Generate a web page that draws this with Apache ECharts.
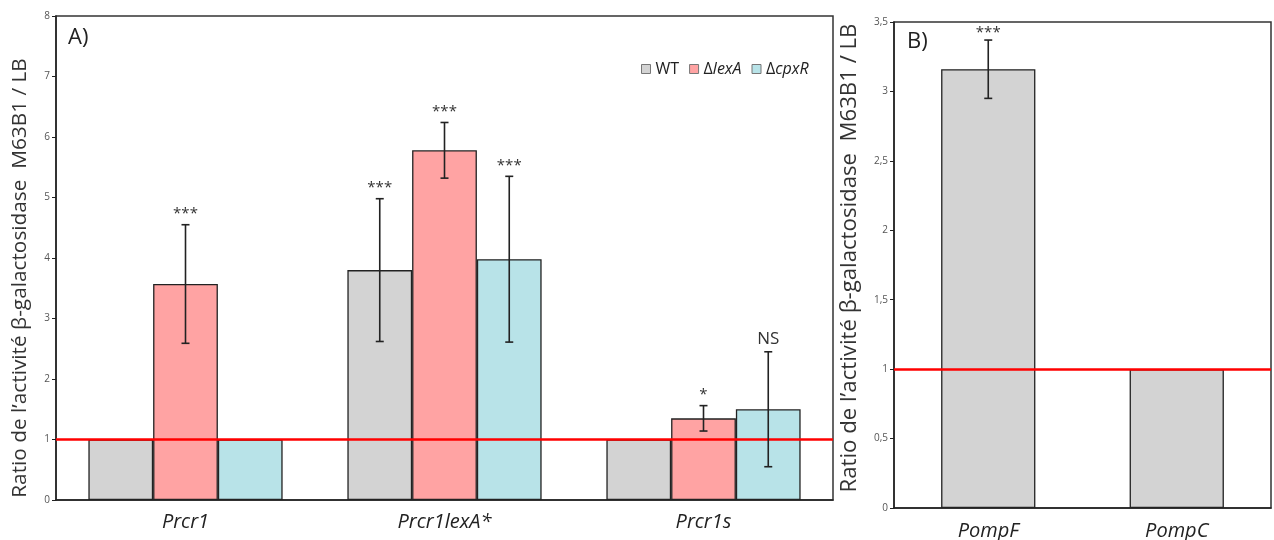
<!DOCTYPE html>
<html>
<head>
<meta charset="utf-8">
<script src="https://cdn.jsdelivr.net/npm/echarts@6/dist/echarts.min.js"></script>
<style>html,body{margin:0;padding:0;background:#fff}#c{width:1274px;height:540px}</style>
</head>
<body>
<div id="c"></div>
<script>
// ---- Data (panel A) ----
const categoriesA = ['Prcr1', 'Prcr1lexA*', 'Prcr1s'];
const wtA = [1.0, 3.80, 1.0];
const lexAA = [3.57, 5.78, 1.35];
const cpxRA = [1.0, 3.98, 1.50];
const wtErrA = [0, 1.18, 0];
const lexAErrA = [0.98, 0.46, 0.21];
const cpxRErrA = [0, 1.37, 0.95];
const wtSigA = ['', '***', ''];
const lexASigA = ['***', '***', '*'];
const cpxRSigA = ['', '***', 'NS'];
const ticksA = [0, 1, 2, 3, 4, 5, 6, 7, 8];

// ---- Data (panel B) ----
const categoriesB = ['PompF', 'PompC'];
const valuesB = [3.16, 1.0];
const errB = [0.21, 0];
const sigB = ['***', ''];
const ticksB = ['0', '0,5', '1', '1,5', '2', '2,5', '3', '3,5'];

const refLine = 1;
const seriesNames = ['WT', 'ΔlexA', 'ΔcpxR'];

const FONT = '"Open Sans", sans-serif';
const colors = ['#d3d3d3', '#ffa3a3', '#b8e3e8'];

function errSeries(vals, errs, sigs, slot, nSlots, barFrac, axisIdx, textOff) {
  return {
    type: 'custom',
    xAxisIndex: axisIdx, yAxisIndex: axisIdx,
    z: 10, silent: true, clip: false,
    data: vals.map((v, i) => [i, v, errs[i]]),
    renderItem: function (params, api) {
      const i = api.value(0), v = api.value(1), e = api.value(2);
      const band = api.size([1, 0])[0];
      const bw = band * barFrac / nSlots;
      const c = api.coord([i, v]);
      const x = c[0] + (slot - (nSlots - 1) / 2) * bw;
      const yT = api.coord([i, v + e])[1];
      const yB = api.coord([i, v - e])[1];
      const st = { stroke: '#222', lineWidth: 1.6 };
      const children = [];
      if (e > 0) {
        children.push({ type: 'line', shape: { x1: x, y1: yT, x2: x, y2: yB }, style: st });
        children.push({ type: 'line', shape: { x1: x - 4, y1: yT, x2: x + 4, y2: yT }, style: st });
        children.push({ type: 'line', shape: { x1: x - 4, y1: yB, x2: x + 4, y2: yB }, style: st });
      }
      const s = sigs[i];
      if (s) {
        const isNS = s === 'NS';
        children.push({
          type: 'text',
          x: x, y: yT - (isNS ? 13 : textOff),
          style: {
            text: s, fill: '#333',
            font: (isNS ? '17px ' : '15px ') + FONT,
            align: 'center', verticalAlign: 'middle',
            textAlign: 'center', textVerticalAlign: 'middle'
          }
        });
      }
      return { type: 'group', children: children };
    }
  };
}

const redMark = {
  silent: true, symbol: 'none', label: { show: false },
  lineStyle: { color: '#ff0000', width: 2.5, type: 'solid' },
  data: [{ yAxis: refLine }]
};

const barStyle = (c) => ({ color: c, borderColor: '#222', borderWidth: 1.3 });

const yName = 'Ratio de l’activité β-galactosidase  M63B1 / LB';

const option = {
  animation: false,
  title: [
    { text: 'A)', left: 63, top: 22, textStyle: { fontSize: 22, fontWeight: 'normal', color: '#222', fontFamily: FONT } },
    { text: 'B)', left: 902, top: 26, textStyle: { fontSize: 22, fontWeight: 'normal', color: '#222', fontFamily: FONT } }
  ],
  legend: {
    data: seriesNames, left: 636, top: 56,
    icon: 'rect', itemWidth: 9, itemHeight: 9, itemGap: 10,
    itemStyle: { borderColor: '#777', borderWidth: 1 },
    textStyle: { fontFamily: FONT, fontSize: 16, color: '#222',
      rich: { n: { fontSize: 16, fontFamily: FONT, color: '#222' }, i: { fontSize: 16, fontFamily: FONT, fontStyle: 'italic', color: '#222' } } },
    formatter: function (name) {
      if (name.charAt(0) === 'Δ') return '{n|Δ}{i|' + name.slice(1) + '}';
      return '{n|' + name + '}';
    }
  },
  grid: [
    { left: 56, top: 16, width: 777, height: 484, show: true, borderColor: '#333', borderWidth: 1.5, backgroundColor: 'transparent', containLabel: false, outerBoundsMode: 'none' },
    { left: 894, top: 22, width: 377, height: 486, show: true, borderColor: '#333', borderWidth: 1.5, backgroundColor: 'transparent', containLabel: false, outerBoundsMode: 'none' }
  ],
  xAxis: [
    { type: 'category', gridIndex: 0, data: categoriesA,
      axisLine: { lineStyle: { color: '#222', width: 1.5 } },
      axisTick: { length: 27, lineStyle: { color: '#222', width: 1.5 } },
      axisLabel: { margin: 12, fontSize: 20, fontStyle: 'italic', color: '#222', fontFamily: FONT } },
    { type: 'category', gridIndex: 1, data: categoriesB,
      axisLine: { lineStyle: { color: '#222', width: 1.5 } },
      axisTick: { length: 15, lineStyle: { color: '#222', width: 1.5 } },
      axisLabel: { margin: 13, fontSize: 20, fontStyle: 'italic', color: '#222', fontFamily: FONT } }
  ],
  yAxis: [
    { type: 'value', gridIndex: 0, min: ticksA[0], max: ticksA[ticksA.length - 1], interval: 1,
      name: yName, nameLocation: 'middle', nameGap: 25,
      nameTextStyle: { fontSize: 20.8, color: '#333', fontFamily: FONT, padding: [0, 40, 0, 0] },
      axisLine: { show: true, lineStyle: { color: '#222', width: 1.5 } },
      axisTick: { show: true, length: 4, lineStyle: { color: '#222' } },
      splitLine: { show: false },
      axisLabel: { fontSize: 10, color: '#555', margin: 6, fontFamily: FONT } },
    { type: 'value', gridIndex: 1, min: 0, max: 3.5, interval: 0.5,
      name: yName, nameLocation: 'middle', nameGap: 33,
      nameTextStyle: { fontSize: 22.2, color: '#333', fontFamily: FONT, padding: [0, 0, 0, 14] },
      axisLine: { show: true, lineStyle: { color: '#222', width: 1.5 } },
      axisTick: { show: true, length: 4, lineStyle: { color: '#222' } },
      splitLine: { show: false },
      axisLabel: { fontSize: 10, color: '#555', margin: 6, fontFamily: FONT,
        formatter: function (v) { return ticksB[Math.round(v * 2)]; } } }
  ],
  series: [
    { name: seriesNames[0], type: 'bar', xAxisIndex: 0, yAxisIndex: 0, data: wtA, barGap: '0%', barCategoryGap: '25%', itemStyle: barStyle(colors[0]), markLine: redMark },
    { name: seriesNames[1], type: 'bar', xAxisIndex: 0, yAxisIndex: 0, data: lexAA, barGap: '0%', barCategoryGap: '25%', itemStyle: barStyle(colors[1]) },
    { name: seriesNames[2], type: 'bar', xAxisIndex: 0, yAxisIndex: 0, data: cpxRA, barGap: '0%', barCategoryGap: '25%', itemStyle: barStyle(colors[2]) },
    errSeries(wtA, wtErrA, wtSigA, 0, 3, 0.75, 0, 11),
    errSeries(lexAA, lexAErrA, lexASigA, 1, 3, 0.75, 0, 11),
    errSeries(cpxRA, cpxRErrA, cpxRSigA, 2, 3, 0.75, 0, 11),
    { name: 'B', type: 'bar', xAxisIndex: 1, yAxisIndex: 1, data: valuesB, barCategoryGap: '50%', itemStyle: barStyle(colors[0]), markLine: redMark },
    errSeries(valuesB, errB, sigB, 0, 1, 0.5, 1, 7)
  ]
};

echarts.init(document.getElementById('c')).setOption(option);
</script>
</body>
</html>
